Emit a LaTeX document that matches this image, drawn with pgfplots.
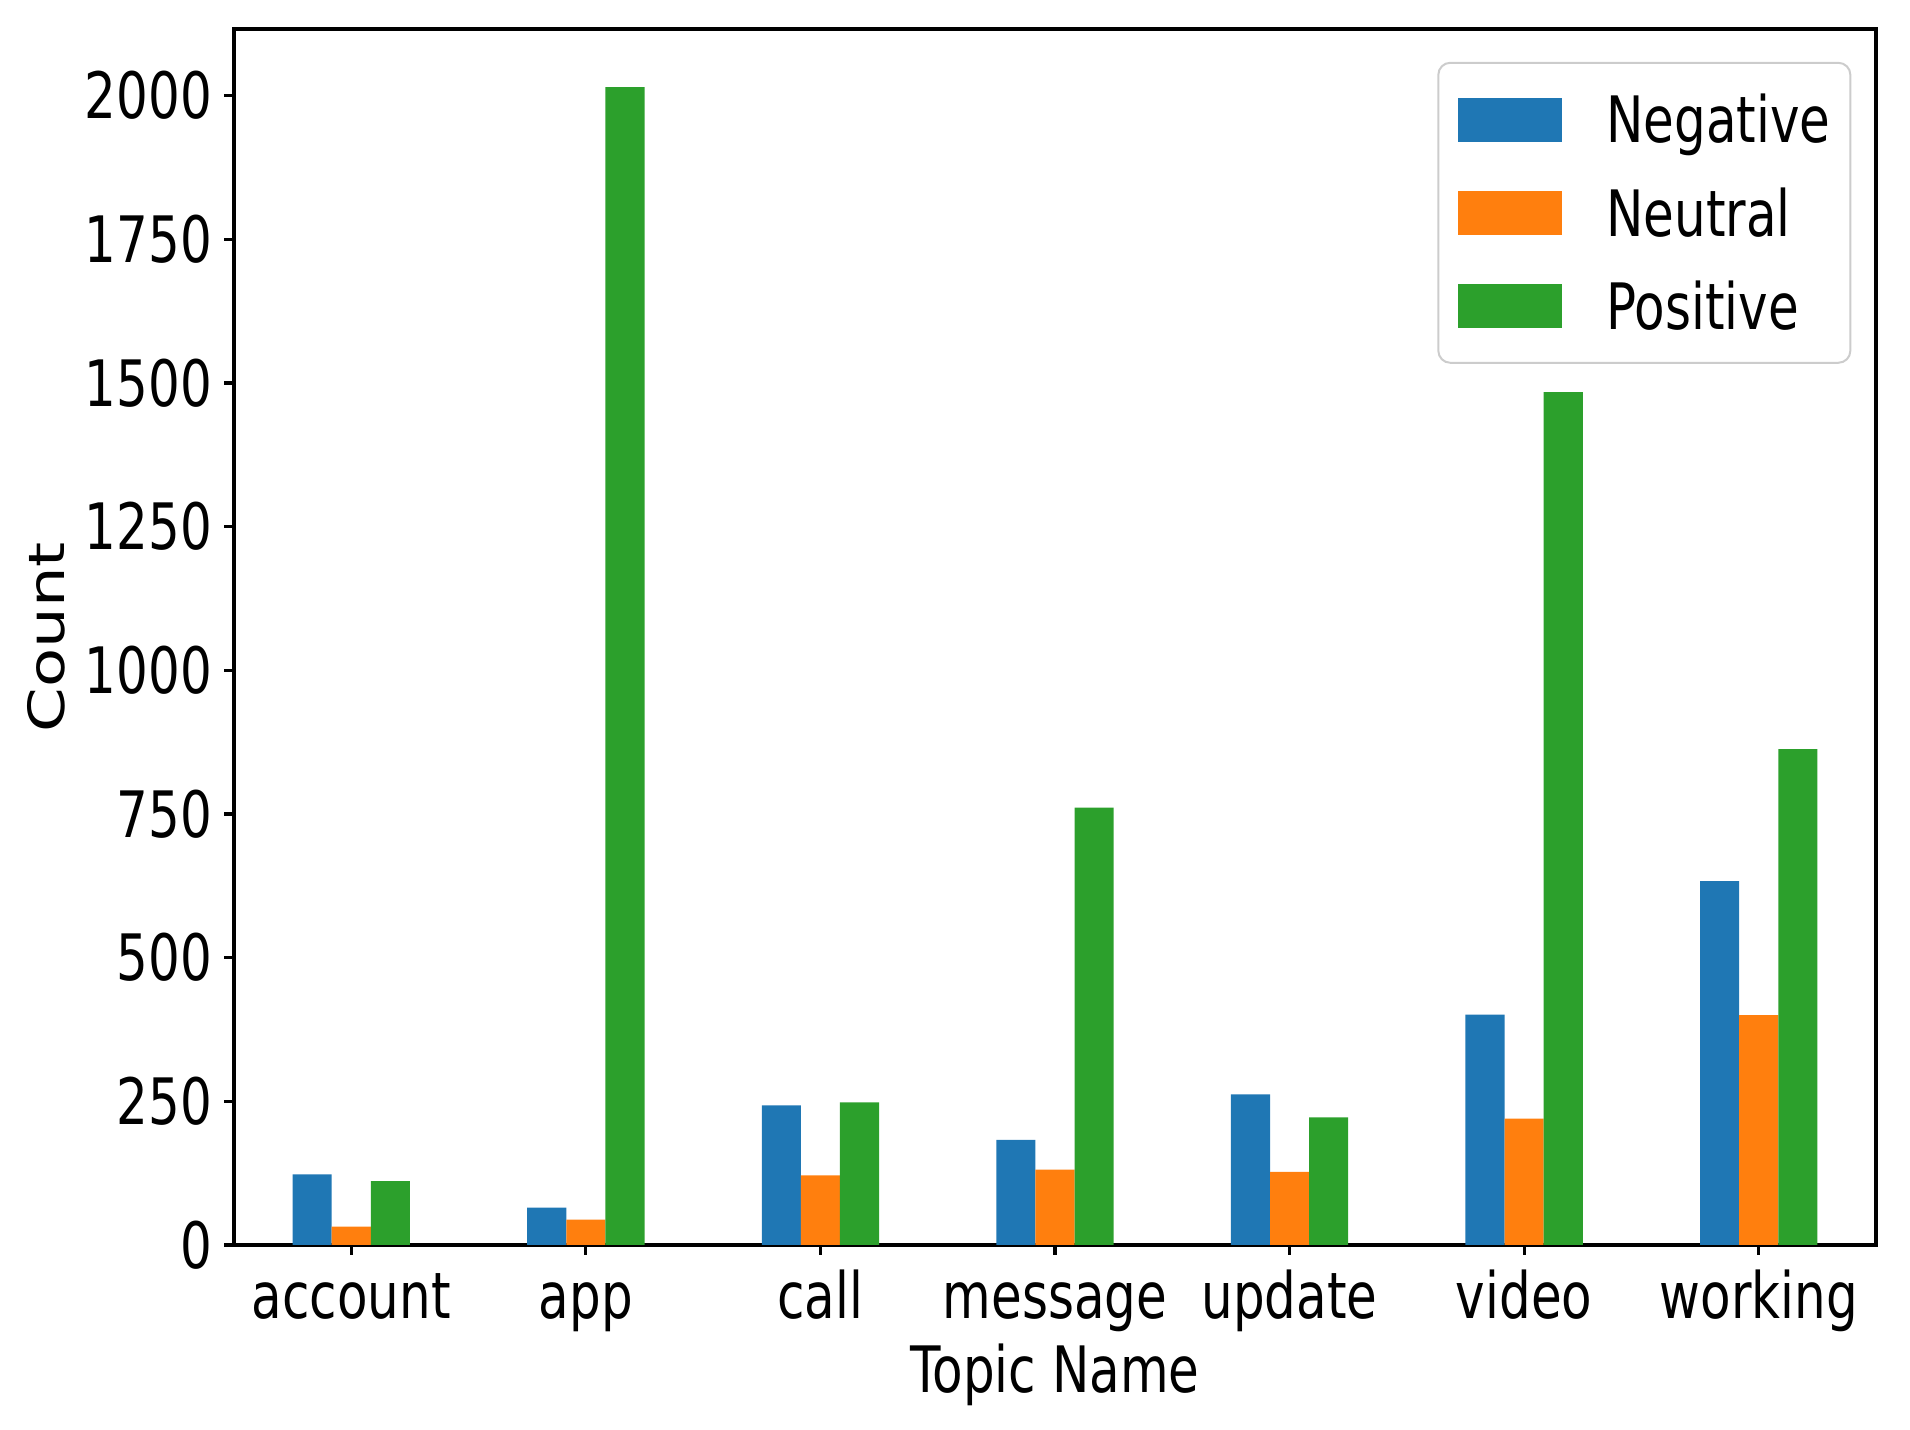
\documentclass[border=0pt]{standalone}
\usepackage{pgfplots}
\pgfplotsset{compat=1.18}
\usepackage{graphicx}
\usepackage{fontspec}
\setmainfont{DejaVu Sans}[FakeStretch=0.78]
\newfontfamily\plainfont{DejaVu Sans}

\definecolor{negblue}{HTML}{1F77B4}
\definecolor{neuorange}{HTML}{FF7F0E}
\definecolor{posgreen}{HTML}{2CA02C}

\pgfplotsset{
  sentbar/.style={fill=#1, draw=none,
    legend image code/.code={\fill[#1, sharp corners] (0pt,-5.5pt) rectangle (26pt,5.5pt);}},
}

\begin{document}
\begin{tikzpicture}
\begin{axis}[
  scale only axis, width=410.5pt, height=304pt,
  xmin=-0.5, xmax=6.5, ymin=0, ymax=2116,
  ybar=0pt, bar width=0.1667,
  xtick={0,1,2,3,4,5,6},
  xticklabels={account,app,call,message,update,video,working},
  ytick={0,250,...,2000},
  xtick pos=left, ytick pos=left,
  tick align=outside, major tick length=2.4pt,
  tick style={black, line width=0.8pt},
  axis line style={line width=0.8pt},
  font=\fontsize{16}{19}\selectfont,
  /pgf/number format/assume math mode=true,
  /pgf/number format/1000 sep={},
  scaled y ticks=false,
  xticklabel style={anchor=base, yshift=-16pt},
  yticklabel style={inner xsep=2.9pt},
  xlabel={Topic Name},
  xlabel style={at={(axis description cs:0.5,-0.1217)}, anchor=base},
  ylabel={\scalebox{1}[0.78]{\plainfont Count}},
  ylabel style={at={(axis description cs:-0.1145,0.5)}, anchor=center},
  legend cell align=left,
  legend style={at={(rel axis cs:0.985,0.973)}, anchor=north east,
    draw=black!20, line width=0.5pt, rounded corners=3pt, fill=white,
    inner xsep=5pt, inner ysep=8.35pt, row sep=11.6pt,
    nodes={inner sep=0pt, text height=11.7pt, text depth=0pt},
    /tikz/every odd column/.append style={column sep=11pt}},
]
\addplot[sentbar=negblue] coordinates {(0,123) (1,65) (2,243) (3,183) (4,262) (5,401) (6,633)};
\addplot[sentbar=neuorange] coordinates {(0,32) (1,44) (2,121) (3,131) (4,127) (5,220) (6,400)};
\addplot[sentbar=posgreen] coordinates {(0,111) (1,2015) (2,248) (3,761) (4,222) (5,1484) (6,863)};
\legend{Negative,Neutral,Positive}
\end{axis}
\pgfresetboundingbox
\path[use as bounding box] (-58.5pt,-46.25pt) rectangle (419pt,311.25pt);
\end{tikzpicture}
\end{document}
